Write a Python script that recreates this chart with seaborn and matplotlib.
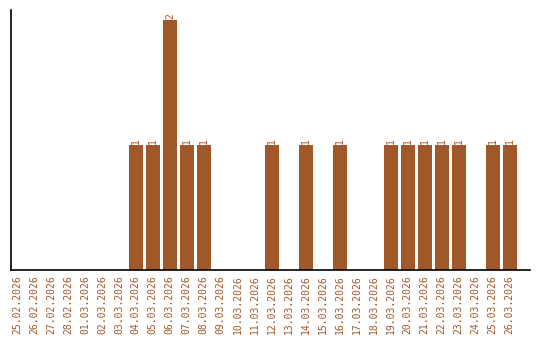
import matplotlib
matplotlib.use("Agg")
import matplotlib.pyplot as plt
import seaborn as sns
import pandas as pd

dates = ["25.02.2026", "26.02.2026", "27.02.2026", "28.02.2026", "01.03.2026",
         "02.03.2026", "03.03.2026", "04.03.2026", "05.03.2026", "06.03.2026",
         "07.03.2026", "08.03.2026", "09.03.2026", "10.03.2026", "11.03.2026",
         "12.03.2026", "13.03.2026", "14.03.2026", "15.03.2026", "16.03.2026",
         "17.03.2026", "18.03.2026", "19.03.2026", "20.03.2026", "21.03.2026",
         "22.03.2026", "23.03.2026", "24.03.2026", "25.03.2026", "26.03.2026"]
counts = [0, 0, 0, 0, 0, 0, 0, 1, 1, 2,
          1, 1, 0, 0, 0, 1, 0, 1, 0, 1,
          0, 0, 1, 1, 1, 1, 1, 0, 1, 1]

color = "#A0582A"
df = pd.DataFrame({"date": dates, "count": counts})

sns.set_style("white")
fig = plt.figure(figsize=(5.4, 3.4), dpi=100)
ax = fig.add_axes([11/540, 70/340, 519/540, 260/340])
sns.barplot(data=df, x="date", y="count", color=color, saturation=1, width=0.82,
            linewidth=0, ax=ax)

for i, v in enumerate(counts):
    if v > 0:
        ax.text(i, v + 0.01, str(v), rotation=90, ha="center", va="bottom",
                fontsize=7, color=color, family="DejaVu Sans Mono")

ax.set_xlim(-0.35, 30.2)
ax.set_ylim(0, 2.08)
ax.set_xlabel("")
ax.set_ylabel("")
ax.set_yticks([])
ax.tick_params(axis="x", length=0, pad=4)
for lbl in ax.get_xticklabels():
    lbl.set_rotation(90)
    lbl.set_color(color)
    lbl.set_fontsize(7)
    lbl.set_family("DejaVu Sans Mono")
for s in ["top", "right"]:
    ax.spines[s].set_visible(False)
for s in ["left", "bottom"]:
    ax.spines[s].set_color("black")
    ax.spines[s].set_linewidth(1.2)

fig.savefig("out.png", dpi=100)
